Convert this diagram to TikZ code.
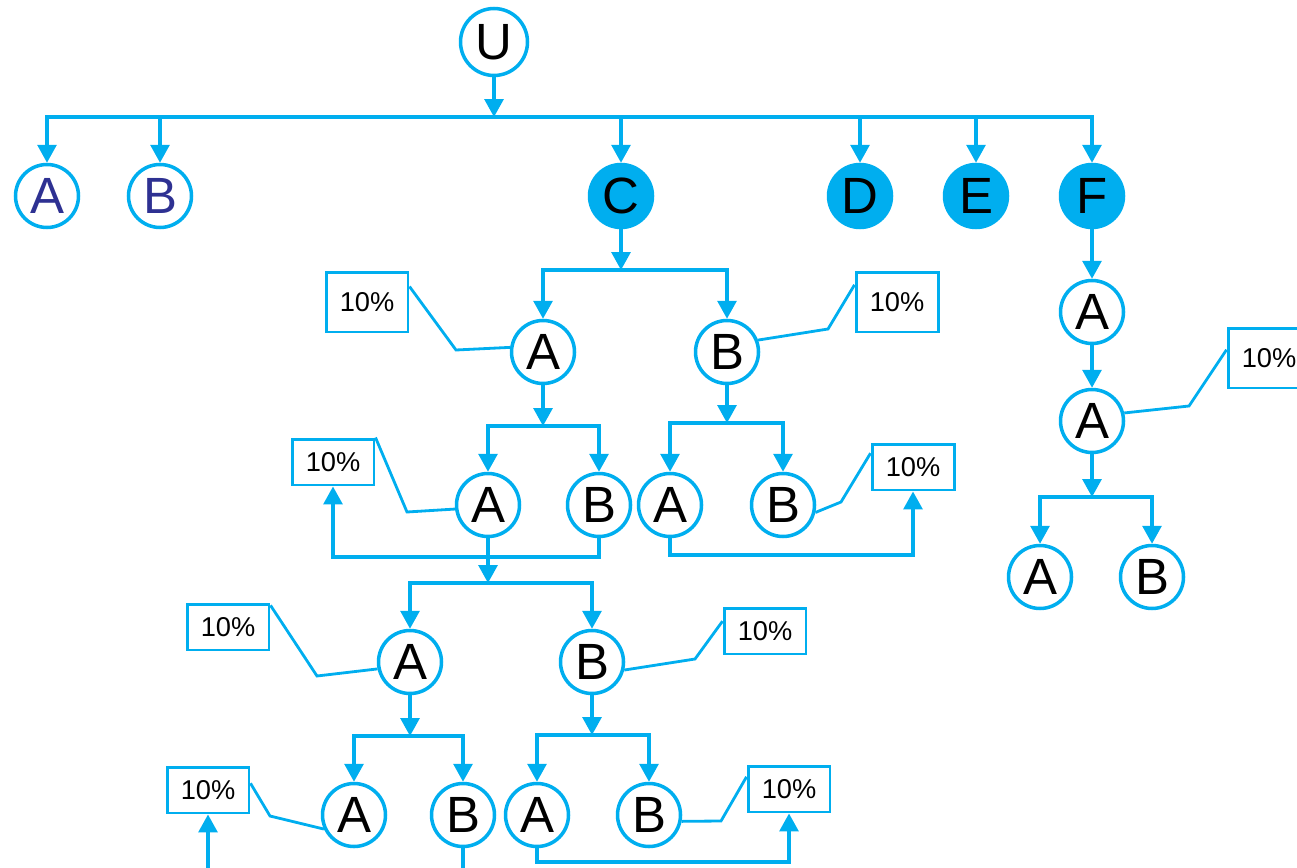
\documentclass[tikz,border=0pt]{standalone}
\usepackage{fontspec}
\setmainfont{Liberation Sans}
\usetikzlibrary{arrows.meta}
\definecolor{sky}{HTML}{00AEEF}
\definecolor{ink}{HTML}{2E3192}
\tikzset{
  state/.style={circle, draw=sky, line width=2pt, minimum size=1.26cm, inner sep=0pt,
    font=\fontsize{29}{30}\selectfont},
  hot/.style={state, fill=sky},
  share/.style={draw=sky, line width=1.7pt, minimum width=1.64cm, minimum height=0.92cm,
    inner sep=0pt, font=\fontsize{15.5}{17}\selectfont},
  tall/.style={minimum height=1.2cm},
  flow/.style={draw=sky, line width=1.8pt, -{Triangle[length=0.36cm,width=0.38cm]}},
  bus/.style={draw=sky, line width=1.8pt},
  lead/.style={draw=sky, line width=1.6pt}
}
\begin{document}
\begin{tikzpicture}[x=0.02cm,y=-0.02cm]
\newcommand{\rowtop}{196}
\newcommand{\rowc}{352}
\newcommand{\rowd}{505}
\newcommand{\rowe}{662}
\newcommand{\rowf}{815}
\useasboundingbox (0,0) rectangle (1297,868);

\node[state, minimum size=1.34cm] (U) at (494,42) {U};
\node[state, text=ink] (A) at (47,\rowtop) {A};
\node[state, text=ink] (B) at (160,\rowtop) {B};
\node[hot] (C) at (621,\rowtop) {C};
\node[hot] (D) at (860,\rowtop) {D};
\node[hot] (E) at (976,\rowtop) {E};
\node[hot] (F) at (1092,\rowtop) {F};

\node[state] (A1) at (543,\rowc) {A};
\node[state] (B1) at (727,\rowc) {B};
\node[state] (A2) at (488,\rowd) {A};
\node[state] (B2) at (599,\rowd) {B};
\node[state] (A3) at (670,\rowd) {A};
\node[state] (B3) at (783,\rowd) {B};
\node[state] (A4) at (410,\rowe) {A};
\node[state] (B4) at (592,\rowe) {B};
\node[state] (A5) at (354,\rowf) {A};
\node[state] (B5) at (463,\rowf) {B};
\node[state] (A6) at (537,\rowf) {A};
\node[state] (B6) at (649,\rowf) {B};

\node[state] (FA1) at (1092,312) {A};
\node[state] (FA2) at (1092,421) {A};
\node[state] (FA3) at (1040,577) {A};
\node[state] (FB3) at (1152,577) {B};

\node[share, tall] (pA1) at (367,302) {10\%};
\node[share, tall] (pB1) at (897,302) {10\%};
\node[share] (pA2) at (333,462) {10\%};
\node[share] (pB3) at (913,467) {10\%};
\node[share] (pA4) at (228,627) {10\%};
\node[share] (pB4) at (765,631) {10\%};
\node[share] (pA5) at (208,790) {10\%};
\node[share] (pB6) at (789,789) {10\%};
\node[share, tall] (pFA2) at (1269,358) {10\%};

\coordinate (jU) at (494,117);
\coordinate (jC) at (621,270);
\coordinate (jA1) at (543,426);
\coordinate (jB1) at (727,423);
\coordinate (jAB2) at (488,583);
\coordinate (jA4) at (410,736);
\coordinate (jB4) at (592,735);
\coordinate (jF) at (1092,497);
\coordinate (rA2) at (599,557);
\coordinate (rB3) at (670,555);
\coordinate (rB6) at (537,862);
\coordinate (eA5) at (208,868);
\coordinate (eB5) at (463,868);

\draw[flow] (U) -- (jU);
\draw[flow] (jU) -| (A.north);
\draw[flow] (jU) -| (B.north);
\draw[flow] (jU) -| (C.north);
\draw[flow] (jU) -| (D.north);
\draw[flow] (jU) -| (E.north);
\draw[flow] (jU) -| (F.north);

\draw[flow] (C) -- (jC);
\draw[flow] (jC) -| (A1.north);
\draw[flow] (jC) -| (B1.north);
\draw[flow] (A1) -- (jA1);
\draw[flow] (jA1) -| (A2.north);
\draw[flow] (jA1) -| (B2.north);
\draw[flow] (B1) -- (jB1);
\draw[flow] (jB1) -| (A3.north);
\draw[flow] (jB1) -| (B3.north);
\draw[flow] (A2) -- (jAB2);
\draw[flow] (jAB2) -| (A4.north);
\draw[flow] (jAB2) -| (B4.north);
\draw[flow] (A4) -- (jA4);
\draw[flow] (jA4) -| (A5.north);
\draw[flow] (jA4) -| (B5.north);
\draw[flow] (B4) -- (jB4);
\draw[flow] (jB4) -| (A6.north);
\draw[flow] (jB4) -| (B6.north);

\draw[flow] (F) -- (FA1);
\draw[flow] (FA1) -- (FA2);
\draw[flow] (FA2) -- (jF);
\draw[flow] (jF) -| (FA3.north);
\draw[flow] (jF) -| (FB3.north);

\draw[flow] (B2) -- (rA2) -| (pA2.south);
\draw[flow] (A3) -- (rB3) -| (pB3.south);
\draw[flow] (A6) -- (rB6) -| (pB6.south);
\draw[flow] (eA5) -- (pA5.south);
\draw[bus] (B5) -- (eB5);

\draw[lead] (A1.172) -- (456,350) -- (pA1.20);
\draw[lead] (B1.21) -- (828,329) -- (pB1.158);
\draw[lead] (A2.187) -- (407,512) -- (pA2.north east);
\draw[lead] (B3.-13) -- (841,502) -- (pB3.162);
\draw[lead] (A4.192) -- (317,676) -- (pA4.27);
\draw[lead] (B4.-14) -- (695,659) -- (pB4.167);
\draw[lead] (A5.205) -- (270,816) -- (pA5.9);
\draw[lead] (B6.-11) -- (721,821) -- (pB6.164);
\draw[lead] (FA2.14) -- (1189,406) -- (pFA2.169);
\end{tikzpicture}
\end{document}
